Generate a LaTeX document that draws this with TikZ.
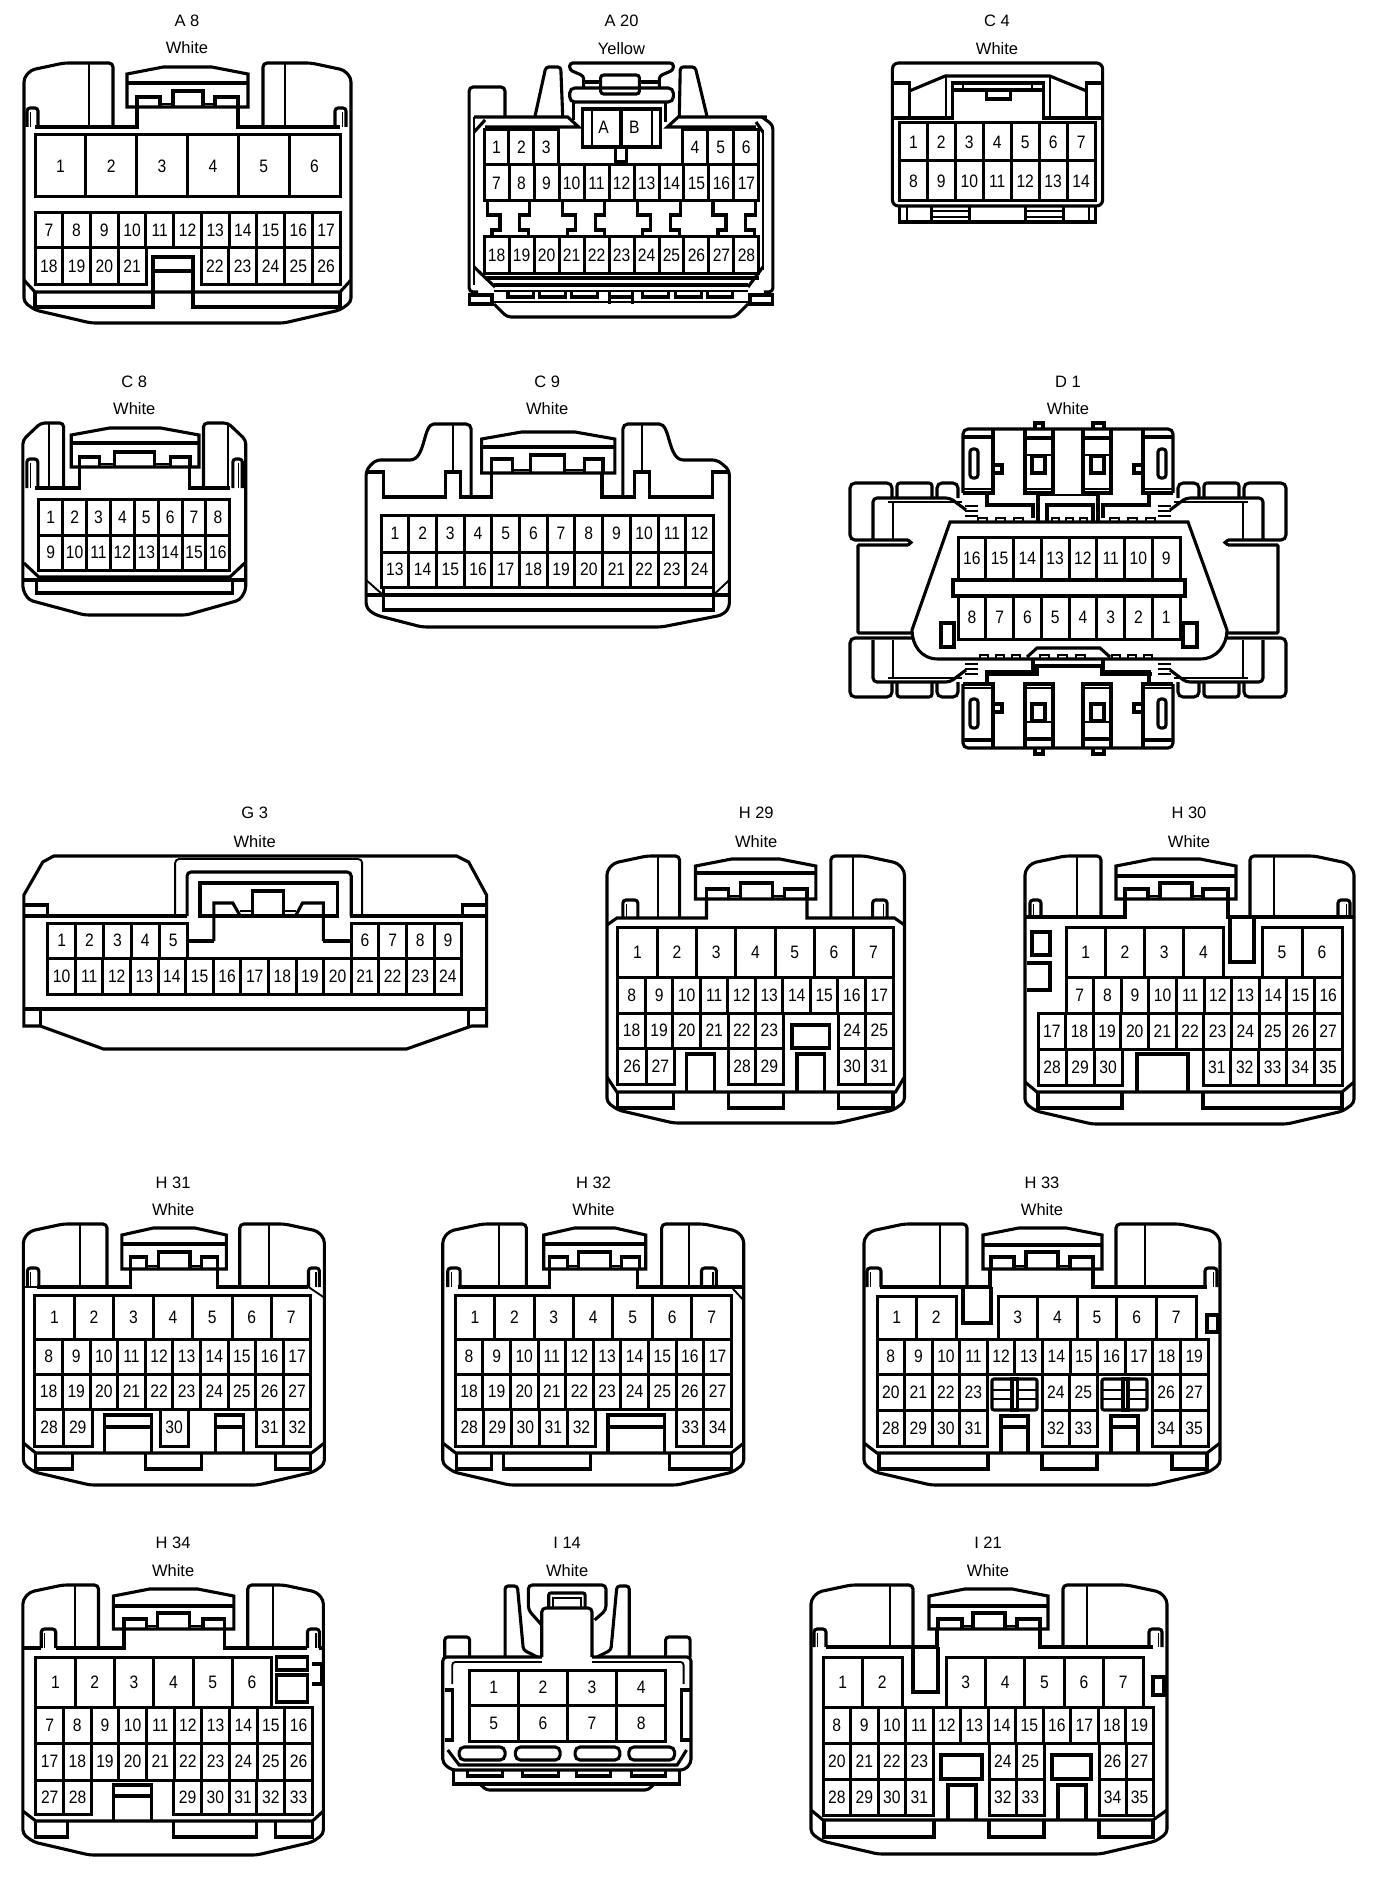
\documentclass[tikz,border=0pt]{standalone}
\usepackage{fontspec}
\setmainfont{Liberation Sans}
\newfontfamily\pinfam[FakeStretch=0.87]{Liberation Sans}
\newcommand\labfont{\fontsize{16.5}{18}\selectfont}
\newcommand\pinfont{\pinfam\fontsize{18}{20}\selectfont}
\tikzset{
 main/.style={draw=black,line width=3.1pt},
 thinl/.style={draw=black,line width=1.9pt},
 cellbox/.style={draw=black,line width=3pt},
 lab/.style={inner sep=0pt,font=\labfont},
 pinlab/.style={inner sep=0pt,font=\pinfont},
}
\newcommand\Title[5]{%
 \node[lab] (\cname-title) at (#1,#2) {#4};
 \node[lab] (\cname-colour) at (#1,#3) {#5};}
\newcommand\Cells[6]{%
 \pgfmathsetmacro\cellw{(#2-#1)/(#6-#5+1)}%
 \foreach \n in {#5,...,#6}{%
  \pgfmathsetmacro\cellx{#1+(\n-#5)*\cellw}%
  \draw[cellbox] (\cellx,#3) rectangle (\cellx+\cellw,#4);
  \node[pinlab] (\cname-\n) at (\cellx+\cellw/2,{(#3+#4)/2}) {\n};
 }}
\newcommand\CellsDown[6]{%
 \pgfmathsetmacro\cellw{(#2-#1)/(#5-#6+1)}%
 \pgfmathtruncatemacro\nxt{#5-1}%
 \foreach \n in {#5,\nxt,...,#6}{%
  \pgfmathsetmacro\cellx{#1+(#5-\n)*\cellw}%
  \draw[cellbox] (\cellx,#3) rectangle (\cellx+\cellw,#4);
  \node[pinlab] (\cname-\n) at (\cellx+\cellw/2,{(#3+#4)/2}) {\n};
 }}
% L R T B EL ER Base
\newcommand\Shell[7]{\draw[main,rounded corners=4pt] (#5,#7) -- (#5,#3) -- (#1+40,#3) -- (#1+7,#3+7) -- (#1,#3+15) -- (#1,#4-21) -- (#1+11,#4-13) -- (#1+67,#4) -- (#2-67,#4) -- (#2-11,#4-13) -- (#2,#4-21) -- (#2,#3+15) -- (#2-7,#3+7) -- (#2-40,#3) -- (#6,#3) -- (#6,#7);}
% x0 x1 ytop yline ybot
\newcommand\Latch[5]{%
 \draw[main] (#1,#5) -- (#1,#3+7) -- ({#1+0.3*(#2-#1)},#3) -- ({#2-0.3*(#2-#1)},#3) -- (#2,#3+7) -- (#2,#5) -- cycle;
 \draw[main] (#1,#4) -- (#2,#4);}
% ybot cL cR cT l1 l2 r1 r2 sT
\newcommand\LatchIn[9]{%
 \draw[main] (#2,#1) -- (#2,#4) -- (#3,#4) -- (#3,#1);
 \draw[main] (#5,#1) -- (#5,#9) -- (#6,#9) -- (#6,#1);
 \draw[main] (#7,#1) -- (#7,#9) -- (#8,#9) -- (#8,#1);
 \draw[thinl] (#6,#1-3) -- (#2,#1-3) (#3,#1-3) -- (#7,#1-3);}
\newcommand\ClipA[4]{\draw[main,rounded corners=3pt] (#1,#4) -- (#1,#3) -- (#2,#3) -- (#2,#4);
 \draw[draw=black,line width=1.3pt] (#1+3.5,#3+4) -- (#1+3.5,#4);}
\newcommand\ClipB[4]{\draw[main,rounded corners=3pt] (#1,#4) -- (#1,#3) -- (#2,#3) -- (#2,#4);
 \draw[draw=black,line width=1.3pt] (#2-3.5,#3+4) -- (#2-3.5,#4);}
\newcommand\Tray[4]{\draw[main] (#1,#3) -- (#1,#4) -- (#2,#4) -- (#2,#3);}
% L R xa xb ych yl
\newcommand\Low[6]{\draw[main] (#1,#5) -- (#3,#6) -- (#4,#6) -- (#2,#5);}
\newcommand\Teeth[5]{\foreach \i in {1,...,#2}{\draw[thinl] ({#1+(\i-1)*#3},#4) --++ (0,#5) --++ ({#3/2},0) --++ (0,{-(#5)});}}
\newcommand\DWing{%
 \draw[main,rounded corners=5pt] (892,498) -- (892,483) -- (850,483) -- (850,540) -- (908,540);
 \draw[main,line cap=round] (908,540) -- (911,542.5) -- (908,545);
 \draw[main,rounded corners=1pt] (908,545) -- (858,545) -- (858,633) -- (912,633);
 \draw[main,rounded corners=3pt] (897,498) -- (897,483) -- (932,483) -- (932,498);
 \draw[main,rounded corners=5pt] (937,498) -- (937,483) -- (958,483) -- (958,498);
 \draw[main,rounded corners=4pt] (873,540) -- (873,498) -- (950,498) -- (966,510);
 \draw[thinl] (888,502) -- (962,502) (893,503) -- (893,540);
 \draw[thinl] (965,506) -- (978,506) (965,511) -- (978,511) (965,516) -- (978,516);
 \draw[main,rounded corners=5pt] (892,682) -- (892,697) -- (850,697) -- (850,638) -- (912,638);
 \draw[main,rounded corners=3pt] (897,682) -- (897,697) -- (932,697) -- (932,682);
 \draw[main,rounded corners=5pt] (937,682) -- (937,697) -- (958,697) -- (958,682);
 \draw[main,rounded corners=4pt] (873,640) -- (873,682) -- (950,682) -- (966,670);
 \draw[thinl] (888,678) -- (962,678) (893,677) -- (893,640);
 \draw[thinl] (965,664) -- (978,664) (965,669) -- (978,669) (965,674) -- (978,674);}
\newcommand\DBlock{%
 \draw[main] (993,429) -- (993,493) -- (963,493);
 \draw[main] (963,437) -- (993,437);
 \draw[thinl] (963,489) -- (993,489);
 \draw[main,rounded corners=3pt] (970,449) rectangle (978,478);
 \draw[main] (993,465) rectangle (1002,473);
 \draw[main] (1025,429) -- (1025,493) -- (1053,493) -- (1053,429);
 \draw[main] (1025,438) -- (1053,438);
 \draw[thinl] (1025,489) -- (1053,489);
 \draw[main] (1032,456) rectangle (1045,473);
 \draw[thinl] (1025,455) -- (1053,455);
 \draw[main] (987,493) -- (987,505) -- (1033,505) -- (1033,518);}
\begin{document}
\begin{tikzpicture}[x=1pt,y=-1pt]
\useasboundingbox (0,0) rectangle (1392,1878);
\fill[white] (0,0) rectangle (1392,1878);
%%%%%%%% A8
\def\cname{A8}
\Title{187}{21}{48}{A 8}{White}
\Shell{24}{351}{63}{323}{113}{263}{127}
\draw[main] (35,127) -- (137,127) -- (137,107) (238,107) -- (238,127) -- (340,127);
\ClipA{27}{38}{108}{127} \ClipB{335}{346}{108}{127}
\draw[thinl] (89,63) -- (89,127) (285,63) -- (285,127);
\Latch{127}{248}{67}{83}{107}
\LatchIn{107}{173}{203}{91}{137}{160}{215}{238}{97}
\Low{24}{351}{35}{340}{280}{292}
\Tray{35}{153}{292}{307} \Tray{193}{340}{292}{307}
\draw[main] (153,292) -- (153,257) -- (193,257) -- (193,292) (153,271) -- (193,271);
\Cells{35}{340}{135}{197}{1}{6}
\Cells{35}{340}{213}{248}{7}{17}
\Cells{35}{146}{248}{284}{18}{21}
\Cells{201}{340}{248}{284}{22}{26}
\begin{scope}[xscale=.996]
%%%%%%%% A20
\def\cname{A20}
\Title{624}{21}{49}{A 20}{Yellow}
\draw[main,rounded corners=4pt] (507,117) -- (507,87) -- (471,87) -- (471,292) -- (480,292);
\draw[main,rounded corners=4pt] (765,117) -- (776,125) -- (776,292) -- (767,292);
\draw[thinl] (476,117) -- (476,285) (766,130) -- (766,270);
\draw[main] (476,132) -- (487,120) (476,267) -- (497,287) (766,132) -- (759,122) (766,267) -- (751,287);
\draw[main] (476,117) -- (570,117) -- (581,127) -- (487,127);
\draw[main] (759,127) -- (670,127) -- (681,117) -- (770,117);
\draw[main,rounded corners=3pt] (537,117) -- (548,67) -- (563,67) -- (565,117);
\draw[main,rounded corners=3pt] (682,117) -- (683,67) -- (698,67) -- (710,117);
\draw[main,rounded corners=3pt] (586,88) -- (586,76) -- (572,70) -- (572,63) -- (676,63) -- (676,70) -- (662,76) -- (662,88);
\draw[main,rounded corners=5pt] (572,88) rectangle (676,102);
\draw[main,rounded corners=3pt] (603,75) rectangle (642,94);
\draw[main] (586,82) -- (603,82) (642,82) -- (662,82);
\draw[main] (576,102) -- (576,120) (668,102) -- (668,122);
\draw[main] (585,109) rectangle (663,147);
\draw[thinl] (594,109) -- (594,147) (655,109) -- (655,147);
\draw[main] (623.5,109) -- (623.5,147);
\draw[main] (618,147) rectangle (629,162);
\node[pinlab] (A20-A) at (606,127) {A};
\node[pinlab] (A20-B) at (637,127) {B};
\foreach \dx in {0,75.6,151.3,226.9}{
 \draw[main] (489+\dx,201) -- (489+\dx,215) -- (502+\dx,215) -- (502+\dx,230) -- (494+\dx,230) -- (494+\dx,237);
 \draw[main] (531.5+\dx,201) -- (531.5+\dx,215) -- (522+\dx,215) -- (522+\dx,230) -- (531+\dx,230) -- (531+\dx,237);
}
\draw[main] (487,278) -- (762,278);
\draw[main] (496,285) -- (751,285);
\draw[thinl] (496,291) -- (751,291);
\foreach \a/\b in {510/536,542/568,574/600,645/671,678/704,710/735}{\Tray{\a}{\b}{291}{297}}
\draw[main] (612,291) -- (612,304) (635,291) -- (635,304) (612,297) -- (635,297);
\draw[main] (471,295) rectangle (494,304);
\draw[main] (753,295) rectangle (776,304);
\draw[thinl] (494,302) -- (753,302);
\draw[main,rounded corners=4pt] (496,304) -- (509,317) -- (738,317) -- (751,304);
\Cells{486}{561}{130}{165}{1}{3}
\Cells{685}{762}{130}{165}{4}{6}
\Cells{486}{762}{165}{201}{7}{17}
\Cells{486}{762}{237}{273}{18}{28}
%%%%%%%% C4
\def\cname{C4}
\Title{1001}{21}{49}{C 4}{White}
\draw[main,rounded corners=6pt] (896,206) -- (896,63) -- (1107,63) -- (1107,206) -- cycle;
\draw[main] (896,118) -- (955,118) (1049,118) -- (1107,118);
\draw[main] (897,83) -- (913,83) -- (913,118) (1107,83) -- (1091,83) -- (1091,118);
\draw[main] (913,91) -- (949,76) -- (1054,76) -- (1091,91);
\draw[thinl] (950,76) -- (950,118) (1054,76) -- (1054,118);
\draw[main] (956,120) -- (956,83) -- (1048,83) -- (1048,120);
\draw[main] (956,90) -- (1048,90);
\draw[thinl] (967,83) -- (967,90) (1036,83) -- (1036,90);
\Tray{990}{1014.5}{90}{99}
\draw[main] (903,206) -- (903,222) -- (1099.5,222) -- (1099.5,206);
\draw[thinl] (911,206) -- (911,222) (1093,206) -- (1093,222);
\draw[main] (935,206) -- (935,222) (973,206) -- (973,222) (1030,206) -- (1030,222) (1068,206) -- (1068,222);
\draw[thinl] (935,211) -- (973,211) (935,217) -- (973,217) (1030,211) -- (1068,211) (1030,217) -- (1068,217);
\Cells{903}{1099.5}{123}{161}{1}{7}
\Cells{903}{1099.5}{161}{201}{8}{14}
\end{scope}
\begin{scope}[xscale=.995]
%%%%%%%% C8
\def\cname{C8}
\Title{135}{382}{409}{C 8}{White}
\draw[main,rounded corners=4pt] (64,488) -- (64,423) -- (41,423) -- (23,440) -- (23,590) -- (29,600) -- (85,615) -- (187.5,615) -- (241,600) -- (247,590) -- (247,440) -- (229,423) -- (204.5,423) -- (204.5,488);
\draw[thinl] (49,423) -- (49,488) (229,423) -- (229,488);
\draw[main] (35.5,488) -- (80,488) -- (80,467) (190,467) -- (190,488) -- (231,488);
\ClipA{27}{38}{459}{488} \ClipB{234}{243.5}{459}{488}
\Latch{71.6}{200}{428}{443}{467}
\LatchIn{467}{115}{155}{452}{80}{100}{171.5}{191}{457}
\draw[main] (24,563) -- (39,577) -- (231,577) -- (246,563);
\draw[main] (23,580) -- (247,580);
\Tray{36.5}{234}{580}{593}
\Cells{39}{231}{499}{535}{1}{8}
\Cells{39}{231}{535}{570}{9}{16}
%%%%%%%% C9
\def\cname{C9}
\Title{550}{382}{409}{C 9}{White}
\draw[main,rounded corners=5pt] (473.5,497) -- (473.5,424) -- (441,424) .. controls (425,424) and (428,460) .. (407,460) -- (377.5,460) -- (368,470) -- (368,608) -- (377.5,615) -- (424,627) -- (665,627) -- (726,615) -- (733,608) -- (733,470) -- (721,460) -- (692,460) .. controls (671,460) and (674,424) .. (657.6,424) -- (626,424) -- (626,497);
\draw[main] (368,472) -- (385,472) -- (385,497) -- (448,497) -- (448,472) -- (463,472) -- (463,497) -- (494,497) -- (494,473);
\draw[main] (605,473) -- (605,497) -- (638,497) -- (638,472) -- (653,472) -- (653,497) -- (716,497) -- (716,472) -- (733,472);
\draw[thinl] (455.5,424) -- (455.5,472) (645,424) -- (645,472);
\Latch{484}{618}{432}{447}{473}
\LatchIn{473}{533}{567.5}{455}{494}{515}{587}{606}{459}
\draw[thinl] (368,580) -- (385,595) (733,580) -- (717,595);
\draw[main] (368,595) -- (733,595);
\draw[main] (385,587) -- (385,610) -- (717,610) -- (717,587);
\Cells{383}{717}{515}{552}{1}{12}
\Cells{383}{717}{552}{587}{13}{24}
\end{scope}
%%%%%%%% D1
\def\cname{D1}
\Title{1068}{382}{409}{D 1}{White}
\DWing
\begin{scope}[shift={(2136,0)},xscale=-1]\DWing\end{scope}
\draw[main,rounded corners=5pt] (963,493) -- (963,429) -- (1173,429) -- (1173,493);
\draw[main,rounded corners=5pt] (963,684) -- (963,748) -- (1173,748) -- (1173,684);
\draw[main] (1035,429) -- (1035,423) -- (1043,423) -- (1043,429) (1093,429) -- (1093,423) -- (1104,423) -- (1104,429);
\draw[main] (1035,748) -- (1035,754) -- (1043,754) -- (1043,748) (1093,748) -- (1093,754) -- (1104,754) -- (1104,748);
\DBlock
\begin{scope}[shift={(2136,0)},xscale=-1]\DBlock\end{scope}
\begin{scope}[shift={(0,1177)},yscale=-1]\DBlock\end{scope}
\begin{scope}[shift={(2136,1177)},xscale=-1,yscale=-1]\DBlock\end{scope}
\draw[thinl] (1038,495) -- (1098,495);
\draw[main] (1038,495) -- (1038,522) (1098,495) -- (1098,522);
\draw[main] (1047,522) -- (1047,505) -- (1093,505) -- (1093,522);
\Teeth{978}{3}{18}{522}{-4}
\Teeth{1052}{3}{14}{522}{-4}
\Teeth{1110}{3}{18}{522}{-4}
\draw[main,fill=white] (950,522) -- (1188,522) -- (1227,630) .. controls (1227,645) and (1217,659) .. (1200,659) -- (938,659) .. controls (921,659) and (912,645) .. (912,630) -- cycle;
\draw[main] (941,623) rectangle (954,647) (1183,623) rectangle (1197,647);
\draw[main] (1027,657) -- (1037,648) -- (1100,648) -- (1110,657);
\Teeth{980}{3}{16}{659}{-4}
\Teeth{1040}{3}{18}{659}{-4}
\Teeth{1112}{3}{16}{659}{-4}
\draw[main] (988,674) -- (1037,674) -- (1037,666) -- (1102,666) -- (1102,674) -- (1152,674);
\draw[main] (953,580) rectangle (1185,596);
\CellsDown{958}{1180}{537}{580}{16}{9}
\CellsDown{958}{1180}{596}{639}{8}{1}
\begin{scope}[xscale=.995]
%%%%%%%% G3
\def\cname{G3}
\Title{256}{813}{842}{G 3}{White}
\draw[main] (54,856) -- (459,856) -- (471,862) -- (489,895) -- (489,1026) -- (474,1026) -- (408.5,1049) -- (104,1049) -- (40.5,1026) -- (24,1026) -- (24,895) -- (43,862) -- cycle;
\draw[main] (24,1009) -- (489,1009);
\draw[main] (40.5,1009) -- (40.5,1026) (471,1009) -- (471,1026);
\draw[main] (24,916) -- (188,916) (352,916) -- (489,916);
\draw[main] (24,905) -- (48,905) -- (48,916) (489,905) -- (465,905) -- (465,916);
\draw[thinl,rounded corners=4pt] (176,916) -- (176,859) -- (364,859) -- (364,916);
\draw[main,rounded corners=4pt] (188,916) -- (188,872) -- (353,872) -- (353,916);
\draw[main] (201,916) rectangle (339,883);
\draw[main] (215,941) -- (215,903) -- (234,903) -- (241.5,916);
\draw[main] (253.4,916) -- (253.4,891) -- (285,891) -- (285,916);
\draw[main] (297,916) -- (304,903) -- (325,903) -- (325,941);
\draw[thinl] (241.5,911) -- (253.4,911) (285,911) -- (297,911);
\draw[main] (215,941) -- (188,941) (325,941) -- (352,941);
\Cells{48}{188}{923}{958}{1}{5}
\Cells{353}{464}{923}{958}{6}{9}
\Cells{48}{464}{958}{994}{10}{24}
%%%%%%%% H29
\def\cname{H29}
\Title{760}{813}{842}{H 29}{White}
\Shell{610}{909}{856}{1123}{683}{835}{918}
\draw[thinl] (661,856) -- (661,918) (857,856) -- (857,918);
\draw[main] (610,925) -- (620,918) -- (710,918) -- (710,899) (811,899) -- (811,918) -- (899,918) -- (909,925);
\ClipA{626}{641}{900}{918} \ClipB{877}{891.5}{900}{918}
\Latch{699}{820}{859}{873}{899}
\LatchIn{899}{744}{776}{883}{710}{732}{788}{811}{889}
\Low{610}{909}{620}{900}{1077}{1092}
\Tray{621}{677}{1092}{1108} \Tray{732}{787}{1092}{1108} \Tray{843}{897.5}{1092}{1108}
\draw[main] (796,1025) rectangle (834,1048);
\Tray{690}{718.5}{1092}{1054} \Tray{801}{829}{1092}{1054}
\Cells{621}{897.5}{927}{977}{1}{7}
\Cells{621}{897.5}{977}{1013}{8}{17}
\Cells{621}{787}{1013}{1048}{18}{23}
\Cells{842.6}{897.5}{1013}{1048}{24}{25}
\Cells{621}{678}{1048}{1084}{26}{27}
\Cells{732}{787}{1048}{1084}{28}{29}
\Cells{842.6}{897.5}{1048}{1084}{30}{31}
\end{scope}
%%%%%%%% H30
\def\cname{H30}
\Title{1189}{813}{842}{H 30}{White}
\Shell{1025}{1354}{856}{1124}{1101}{1250}{917}
\draw[thinl] (1077,856) -- (1077,917) (1274,856) -- (1274,917);
\draw[main] (1025,917) -- (1125,917) -- (1125,899) (1228,899) -- (1228,917) -- (1354,917);
\ClipA{1030}{1041}{900}{917} \ClipB{1338}{1350}{900}{917}
\Latch{1116}{1236}{859}{876}{899}
\LatchIn{899}{1160}{1192}{883}{1125}{1148}{1203}{1228}{889}
\Tray{1230}{1254}{917}{962}
\draw[main] (1032,932) rectangle (1050,955);
\draw[main] (1027,963) -- (1050,963) -- (1050,990) -- (1027,990);
\draw[main] (1137,1092) -- (1137,1054) -- (1188,1054) -- (1188,1092);
\Low{1025}{1354}{1037}{1342}{1082}{1092}
\Tray{1038}{1122}{1092}{1108} \Tray{1203}{1342}{1092}{1108}
\Cells{1066}{1223}{927}{977}{1}{4}
\Cells{1262}{1342}{927}{977}{5}{6}
\Cells{1066}{1342}{977}{1013}{7}{16}
\Cells{1038}{1342}{1013}{1049}{17}{27}
\Cells{1038}{1122}{1049}{1085}{28}{30}
\Cells{1203}{1342}{1049}{1085}{31}{35}
\begin{scope}[xscale=.995]
%%%%%%%% H31
\def\cname{H31}
\Title{174}{1183}{1210}{H 31}{White}
\Shell{23.5}{326}{1224}{1485}{107.5}{241}{1287}
\draw[thinl] (80,1224) -- (80,1287) (270,1224) -- (270,1287);
\draw[main] (37.5,1287) -- (131,1287) -- (131,1269) (218.5,1269) -- (218.5,1287) -- (310,1287);
\draw[thinl] (23.5,1287) -- (37.5,1287) (310,1287) -- (325,1297);
\ClipA{27.5}{39}{1268}{1287} \ClipB{310}{321}{1268}{1287}
\Latch{122.5}{227.5}{1228}{1244}{1269}
\LatchIn{1269}{159}{191}{1252}{131}{147.5}{202.5}{218.5}{1257}
\Low{23.5}{326}{36}{313}{1443}{1453}
\Tray{36}{72.5}{1453}{1469} \Tray{146}{202.5}{1453}{1469} \Tray{276.5}{312.5}{1453}{1469}
\draw[main] (105,1453) -- (105,1415) -- (152.5,1415) -- (152.5,1453) (105,1427) -- (152.5,1427);
\draw[main] (216.5,1453) -- (216.5,1415) -- (245,1415) -- (245,1453) (216.5,1427) -- (245,1427);
\Cells{35}{312.5}{1295}{1339}{1}{7}
\Cells{35}{312.5}{1339}{1374}{8}{17}
\Cells{35}{312.5}{1374}{1409}{18}{27}
\Cells{35}{92.5}{1409}{1446}{28}{29}
\Cells{161}{189}{1409}{1446}{30}{30}
\Cells{257.5}{312.5}{1409}{1446}{31}{32}
%%%%%%%% H32
\def\cname{H32}
\Title{596.5}{1183}{1210}{H 32}{White}
\Shell{445}{747.5}{1224}{1485}{529}{665}{1287}
\draw[thinl] (501.5,1224) -- (501.5,1287) (692.5,1224) -- (692.5,1287);
\draw[main] (460,1287) -- (552.5,1287) -- (552.5,1269) (641,1269) -- (641,1287) -- (747,1287);
\draw[thinl] (735,1287) -- (747,1300);
\ClipA{450}{462.5}{1268}{1287} \ClipB{705}{720}{1268}{1287}
\Latch{546.5}{649}{1228}{1244}{1269}
\LatchIn{1269}{581}{614}{1252}{552.5}{570}{625}{642.5}{1257}
\Low{445}{747.5}{458}{735}{1443}{1453}
\Tray{458.5}{494}{1453}{1469} \Tray{506}{593.5}{1453}{1469} \Tray{672.5}{735}{1453}{1469}
\draw[main] (611,1453) -- (611,1415) -- (667.5,1415) -- (667.5,1453) (611,1427) -- (667.5,1427);
\Cells{457.5}{735}{1295}{1339}{1}{7}
\Cells{457.5}{735}{1339}{1374}{8}{17}
\Cells{457.5}{735}{1374}{1409}{18}{27}
\Cells{457.5}{598.5}{1409}{1446}{28}{32}
\Cells{680}{735}{1409}{1446}{33}{34}
\end{scope}
%%%%%%%% H33
\def\cname{H33}
\Title{1042}{1183}{1210}{H 33}{White}
\Shell{864}{1220}{1224}{1485}{967}{1116}{1287}
\draw[thinl] (940,1224) -- (940,1287) (1145,1224) -- (1145,1287);
\draw[main] (880,1287) -- (990,1287) -- (990,1268) (1093,1268) -- (1093,1287) -- (1207,1287);
\ClipA{867}{881}{1268}{1287} \ClipB{1205}{1217}{1268}{1287}
\Tray{963}{991}{1287}{1323}
\Latch{983}{1102}{1228}{1245}{1269}
\LatchIn{1269}{1026}{1058}{1252}{991}{1014}{1070}{1093}{1257}
\draw[main] (1207,1315) rectangle (1218,1332);
\draw[main,rounded corners=2pt] (992,1379) rectangle (1037,1410);
\draw[main,rounded corners=2pt] (1102,1379) rectangle (1147,1410);
\draw[thinl] (992,1390) -- (1037,1390) (992,1399) -- (1037,1399) (1102,1390) -- (1147,1390) (1102,1399) -- (1147,1399);
\draw[main,fill=white] (1012,1379) rectangle (1017.5,1410) (1123,1379) rectangle (1128,1410);
\draw[main] (1001,1453) -- (1001,1416) -- (1028,1416) -- (1028,1453) (1001,1427) -- (1028,1427);
\draw[main] (1111,1453) -- (1111,1416) -- (1138,1416) -- (1138,1453) (1111,1427) -- (1138,1427);
\Low{864}{1220}{877}{1207}{1443}{1453}
\Tray{879}{988}{1453}{1469} \Tray{1042}{1097}{1453}{1469} \Tray{1172}{1207}{1453}{1469}
\Cells{877}{956}{1296}{1339}{1}{2}
\Cells{998}{1196}{1296}{1339}{3}{7}
\Cells{877}{1208}{1339}{1374}{8}{19}
\Cells{877}{987}{1374}{1410}{20}{23}
\Cells{1042}{1097}{1374}{1410}{24}{25}
\Cells{1152}{1208}{1374}{1410}{26}{27}
\Cells{877}{987}{1410}{1446}{28}{31}
\Cells{1042}{1097}{1410}{1446}{32}{33}
\Cells{1152}{1208}{1410}{1446}{34}{35}
\begin{scope}[xscale=.995]
%%%%%%%% H34
\def\cname{H34}
\Title{174}{1543}{1571}{H 34}{White}
\Shell{23}{325}{1585}{1855}{99}{249}{1648}
\draw[thinl] (75,1585) -- (75,1648) (274.5,1585) -- (274.5,1648);
\draw[main] (23,1648) -- (41.5,1648) (56,1648) -- (124.6,1648) -- (124.6,1629) (226,1629) -- (226,1648) -- (309,1648) (321,1648) -- (325,1648);
\ClipA{41.5}{56}{1629}{1648} \ClipB{309}{321}{1629}{1648}
\Latch{114}{235}{1589}{1606}{1629}
\LatchIn{1629}{158}{190}{1613}{124.6}{147}{204}{226}{1619}
\draw[main] (278,1657) rectangle (309,1670);
\draw[main] (278,1675) rectangle (309,1702);
\draw[main] (314,1664) -- (323,1664) -- (323,1684) -- (314,1684);
\draw[main] (114,1820) -- (114,1785) -- (152,1785) -- (152,1820) (114,1796) -- (152,1796);
\Low{23}{325}{36}{314}{1811}{1821}
\Tray{36}{68}{1821}{1837} \Tray{174.5}{257.5}{1821}{1837} \Tray{277}{314}{1821}{1837}
\Cells{36}{273}{1657}{1707}{1}{6}
\Cells{36}{314}{1707}{1743}{7}{16}
\Cells{36}{314}{1743}{1780}{17}{26}
\Cells{36}{92}{1780}{1814}{27}{28}
\Cells{174.5}{314}{1780}{1814}{29}{33}
%%%%%%%% I14
\def\cname{I14}
\Title{570}{1543}{1571}{I 14}{White}
\draw[main,rounded corners=4pt] (544.5,1657) -- (445,1657) -- (445,1763) -- (454,1770) -- (688,1770) -- (694.5,1763) -- (694.5,1657) -- (595,1657);
\draw[thinl,rounded corners=3pt] (544.5,1662) -- (454.5,1662) -- (454.5,1684) (595,1662) -- (687,1662) -- (687,1684);
\draw[main] (447,1690) -- (455,1690) -- (455,1740) -- (447,1740) (693,1690) -- (685,1690) -- (685,1740) -- (693,1740);
\draw[main,rounded corners=3pt] (447,1657) -- (447,1637) -- (472,1637) -- (472,1657);
\draw[main,rounded corners=3pt] (669,1657) -- (669,1637) -- (693.6,1637) -- (693.6,1657);
\draw[main,rounded corners=3pt] (507.6,1657) -- (507.6,1586) -- (520,1586) -- (526,1650) -- (540,1657);
\draw[main,rounded corners=3pt] (632.4,1657) -- (632.4,1586) -- (620,1586) -- (614,1650) -- (600,1657);
\draw[main,rounded corners=4pt] (544.5,1657) -- (544.5,1608) -- (595,1608) -- (595,1657);
\draw[main,rounded corners=4pt] (544.5,1625) -- (531,1610) -- (531,1585) -- (609,1585) -- (609,1610) -- (597.6,1620);
\draw[main,rounded corners=2pt] (551.5,1607) -- (551.5,1593) -- (588,1593) -- (588,1607);
\draw[thinl] (556,1607) -- (556,1598) -- (584,1598) -- (584,1607);
\draw[main] (450,1750) -- (461.5,1765) -- (680.6,1765) -- (690,1750);
\foreach \a/\b in {461.5/507.6,518/563,578/623,632/678}{
 \draw[main,rounded corners=5pt] (\a,1747) rectangle (\b,1760);}
\draw[main] (456,1770) -- (456,1784) -- (683,1784) -- (683,1770);
\foreach \a/\b in {470/505,525/561,579/614,634.5/669}{\Tray{\a}{\b}{1770}{1776}}
\draw[main,rounded corners=3pt] (482,1784) -- (489,1790) -- (651,1790) -- (657.6,1784);
\Cells{471.6}{669}{1670}{1705}{1}{4}
\Cells{471.6}{669}{1705}{1741}{5}{8}
\end{scope}
%%%%%%%% I21
\def\cname{I21}
\Title{988}{1543}{1571}{I 21}{White}
\Shell{811}{1167}{1585}{1854}{913}{1063}{1647}
\draw[thinl] (890,1585) -- (890,1647) (1087,1585) -- (1087,1647);
\draw[main] (826,1647) -- (937,1647) -- (937,1629) (1040,1629) -- (1040,1647) -- (1153,1647);
\ClipA{814}{826}{1629}{1647} \ClipB{1149}{1162}{1629}{1647}
\Tray{913}{938}{1647}{1692}
\Latch{929}{1048}{1589}{1606}{1629}
\LatchIn{1629}{973}{1005}{1613}{938}{962}{1017}{1040}{1619}
\draw[main] (1153,1677) rectangle (1164,1695);
\draw[main] (941,1755) rectangle (982,1779);
\draw[main] (1052,1755) rectangle (1091,1779);
\Tray{948}{976}{1820}{1785} \Tray{1058}{1086}{1820}{1785}
\Low{811}{1167}{823}{1153}{1810}{1820}
\Tray{824}{934}{1820}{1837} \Tray{989}{1044}{1820}{1837} \Tray{1099}{1153}{1820}{1837}
\Cells{823}{902}{1657}{1707}{1}{2}
\Cells{946}{1143}{1657}{1707}{3}{7}
\Cells{823}{1153}{1707}{1743}{8}{19}
\Cells{823}{933}{1743}{1779}{20}{23}
\Cells{989}{1044}{1743}{1779}{24}{25}
\Cells{1099}{1153}{1743}{1779}{26}{27}
\Cells{823}{933}{1779}{1815}{28}{31}
\Cells{989}{1044}{1779}{1815}{32}{33}
\Cells{1099}{1153}{1779}{1815}{34}{35}
\end{tikzpicture}
\end{document}
